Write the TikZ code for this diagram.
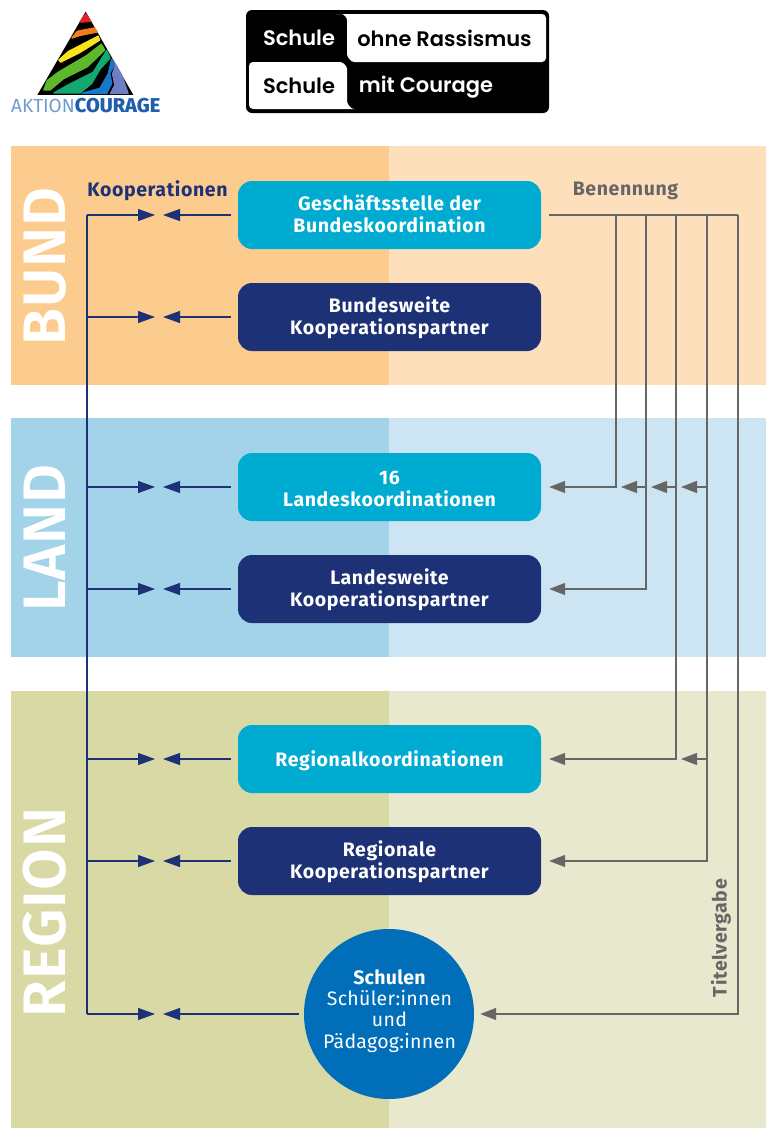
\documentclass[tikz,border=0pt]{standalone}
\usepackage{fontspec}
\setmainfont{Fira Sans}
\newfontfamily\logofont{Poppins SemiBold}
\newfontfamily\levelfont{Fira Sans SemiBold}
\usetikzlibrary{arrows.meta}
\definecolor{bundL}{HTML}{FCCB8E}
\definecolor{bundR}{HTML}{FEDFBB}
\definecolor{landL}{HTML}{A2D3E8}
\definecolor{landR}{HTML}{CDE5F3}
\definecolor{regL}{HTML}{D8D9A5}
\definecolor{regR}{HTML}{E7E8CD}
\definecolor{cyanbox}{HTML}{00ABD2}
\definecolor{navybox}{HTML}{1D3176}
\definecolor{schoolblue}{HTML}{006EB8}
\definecolor{greyline}{HTML}{666666}
\definecolor{logolight}{HTML}{6E9BD2}
\definecolor{logoblue}{HTML}{1F5FAE}
\definecolor{strRed}{HTML}{E4202A}
\definecolor{strOrange}{HTML}{F07F1B}
\definecolor{strYellow}{HTML}{F8E51C}
\definecolor{strGreen}{HTML}{5DB92B}
\definecolor{strMint}{HTML}{13A86E}
\definecolor{strBlue}{HTML}{1878C8}
\definecolor{strPeri}{HTML}{6F7DC4}
\newcommand{\boldlabel}{\fontsize{19.5}{22}\selectfont\bfseries\addfontfeature{LetterSpace=3.2}}
\tikzset{
  koord/.style={rounded corners=14pt,minimum width=303pt,minimum height=68pt,inner sep=0pt},
  cyanrow/.style={koord,fill=cyanbox},
  navyrow/.style={koord,fill=navybox},
  rowtext/.style={inner sep=0pt,text=white,align=center,font=\boldlabel},
  levelname/.style={rotate=90,text=white,font=\levelfont\fontsize{60}{60}\selectfont\addfontfeature{LetterSpace=1.5}},
  navyarrow/.style={draw=navybox,line width=1.2pt,-{Triangle[length=17pt,width=12pt]}},
  greyarrow/.style={draw=greyline,line width=1.2pt,-{Triangle[length=16pt,width=12pt]}},
  logotext/.style={font=\logofont\fontsize{21}{22}\selectfont},
  stripe/.style={fill=#1,draw=#1,line width=1.5pt,line join=round}
}
\begin{document}
\begin{tikzpicture}[x=1pt,y=-1pt]
  \useasboundingbox (0,0) rectangle (766,1128);
  % bands
  \fill [bundL] (11,146) rectangle (389,385);
  \fill [bundR] (389,146) rectangle (766,385);
  \fill [landL] (11,418) rectangle (389,657);
  \fill [landR] (389,418) rectangle (766,657);
  \fill [regL] (11,691) rectangle (389,1128);
  \fill [regR] (389,691) rectangle (766,1128);
  \node [levelname] (bund) at (45,266.5) {BUND};
  \node [levelname] (land) at (45,538) {LAND};
  \node [levelname] (region) at (45,912.5) {REGION};
  % logo left
  \begin{scope}[x=0.3333pt,y=-0.3333pt]
    \fill [black] (257,35) -- (112,285) -- (400,285) -- cycle;
    \path [stripe=strRed] (241,66) -- (257,42) -- (272,64) -- cycle;
    \path [stripe=strOrange] (216,114) -- (232,94) -- (284,84) -- (291,96) -- (240,106) -- cycle;
    \path [stripe=strYellow] (177,180) -- (205,155) -- (294,109) -- (299,120) -- (240,157) -- (182,186) -- cycle;
    \path [stripe=strGreen] (132,270) -- (142,242) -- (175,217) -- (260,167) -- (304,133) -- (314,150) -- (262,200) -- (190,236) -- (150,270) -- cycle;
    \path [stripe=strMint] (162,279) -- (210,252) -- (280,217) -- (320,152) -- (330,174) -- (300,207) -- (275,250) -- (240,279) -- cycle;
    \path [stripe=strBlue] (247,280) -- (300,265) -- (325,222) -- (335,178) -- (344,192) -- (329,220) -- (335,250) -- (320,280) -- cycle;
    \path [stripe=strPeri] (332,280) -- (345,255) -- (338,222) -- (347,194) -- (365,226) -- (384,280) -- cycle;
  \end{scope}
  \node [inner sep=0pt,anchor=base west] (aktion) at (11,112.5) {\textcolor{logolight}{\fontsize{19}{20}\selectfont AKTION}\textcolor{logoblue}{\fontspec{Fira Sans ExtraBold}\fontsize{20}{20}\selectfont COURAGE}};
  % logo right
  \fill [black,rounded corners=6pt] (246,10) rectangle (549,113);
  \fill [white,rounded corners=4pt] (340,14) -- (546,14) -- (546,62) -- (358,62) .. controls (351,62) and (347,57) .. (347,50) -- (347,24) .. controls (347,18) and (344,14) .. (338,14) -- cycle;
  \fill [white,rounded corners=4pt] (249,62) -- (336,62) .. controls (343,62) and (347,66) .. (347,73) -- (347,97) .. controls (347,104) and (351,109) .. (358,109) -- (249,109) -- cycle;
  \node [logotext,text=white] (sch1) at (299,38) {Schule};
  \node [logotext,text=black] (ohne) at (444.5,38) {ohne Rassismus};
  \node [logotext,text=black] (sch2) at (299,86) {Schule};
  \node [logotext,text=white] (mit) at (426,87) {mit Courage};
  % boxes
  \node [cyanrow] (gs) at (389.5,215) {};
  \node [navyrow] (bk) at (389.5,317) {};
  \node [cyanrow] (lk) at (389.5,487) {};
  \node [navyrow] (lp) at (389.5,589) {};
  \node [cyanrow] (rk) at (389.5,759) {};
  \node [navyrow] (rp) at (389.5,861) {};
  \node [rowtext] (gstext) at (389.5,214) {Geschäftsstelle der\\Bundeskoordination};
  \node [rowtext] (bktext) at (389.5,318) {Bundesweite\\Kooperationspartner};
  \node [rowtext] (lktext) at (389.5,489) {16\\Landeskoordinationen};
  \node [rowtext] (lptext) at (389.5,590) {Landesweite\\Kooperationspartner};
  \node [rowtext] (rktext) at (389.5,761) {Regionalkoordinationen};
  \node [rowtext] (rptext) at (389.5,862) {Regionale\\Kooperationspartner};
  \node [circle,fill=schoolblue,minimum size=170pt,inner sep=0pt] (sch) at (389,1014) {};
  \node [inner sep=0pt,text=white,align=center,font=\fontsize{19.5}{21.3}\selectfont\addfontfeature{LetterSpace=1.5}] (schtext) at (389.5,1011) {{\bfseries Schulen}\\Schüler:innen\\und\\Pädagog:innen};
  \node [text=navybox,font=\boldlabel] (koop) at (157.5,191) {Kooperationen};
  \node [text=greyline,font=\boldlabel] (ben) at (625.5,191) {Benennung};
  \node [rotate=90,text=greyline,font=\boldlabel] (titel) at (721,938) {Titelvergabe};
  % kooperationen
  \foreach \n in {gs,bk,lk,lp,rk,rp,sch} {
    \coordinate (in\n) at (\n.west -| 155,0);
    \coordinate (out\n) at (\n.west -| 163,0);
    \coordinate (tr\n) at (\n.west -| 87,0);
    \draw [navyarrow] (tr\n) -- (in\n);
  }
  \foreach \n in {gs,bk,lk,lp,rk,rp} \draw [navyarrow,shorten <=7pt] (\n.west) -- (out\n);
  \draw [navyarrow,shorten <=5pt] (sch.west) -- (outsch);
  \draw [draw=navybox,line width=1.2pt] (trgs) -- (trsch);
  % benennung
  \coordinate (start) at (549,215);
  \coordinate (b1) at (616,215);
  \coordinate (b2) at (646,215);
  \coordinate (b3) at (676,215);
  \coordinate (b4) at (707,215);
  \coordinate (b5) at (738,215);
  \draw [draw=greyline,line width=1.2pt] (start) -- (b5);
  \draw [greyarrow,shorten >=8pt] (b1) |- (lk.east);
  \draw [greyarrow,shorten >=8pt] (b2) |- (lp.east);
  \draw [greyarrow,shorten >=8pt] (b3) |- (rk.east);
  \draw [greyarrow,shorten >=8pt] (b4) |- (rp.east);
  \draw [greyarrow,shorten >=6pt] (b5) |- (sch.east);
  \coordinate (t1) at (621,487);
  \coordinate (t2) at (651,487);
  \coordinate (t3) at (681,487);
  \coordinate (t4) at (681,759);
  \draw [greyarrow] (646,487) -- (t1);
  \draw [greyarrow] (676,487) -- (t2);
  \draw [greyarrow] (707,487) -- (t3);
  \draw [greyarrow] (707,759) -- (t4);
\end{tikzpicture}
\end{document}
